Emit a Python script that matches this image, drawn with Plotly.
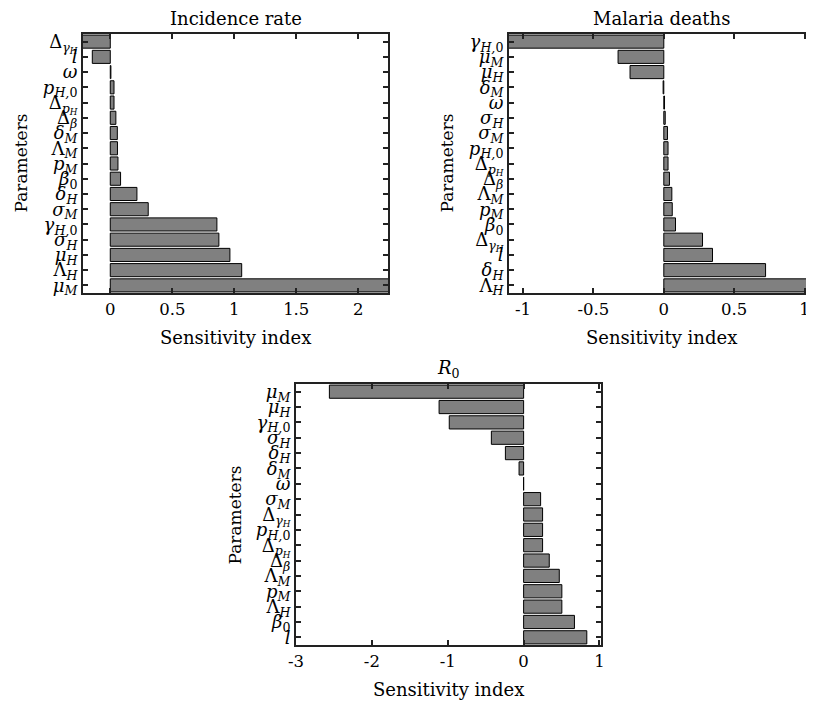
import plotly.graph_objects as go

# ---------------- data (listed top to bottom) ----------------
inc_labels = ["Δ<sub><i>γ<sub>H</sub></i></sub>", "<i>l</i>", "<i>ω</i>", "<i>p<sub>H,</sub></i><sub>0</sub>",
              "Δ<sub><i>p<sub>H</sub></i></sub>", "Δ<sub><i>β</i></sub>", "<i>δ<sub>M</sub></i>", "Λ<sub><i>M</i></sub>",
              "<i>p<sub>M</sub></i>", "<i>β</i><sub>0</sub>", "<i>δ<sub>H</sub></i>", "<i>σ<sub>M</sub></i>",
              "<i>γ<sub>H,</sub></i><sub>0</sub>", "<i>σ<sub>H</sub></i>", "<i>μ<sub>H</sub></i>", "Λ<sub><i>H</i></sub>",
              "<i>μ<sub>M</sub></i>"]
inc_values = [-0.30, -0.145, 0.005, 0.03, 0.03, 0.045, 0.057, 0.058, 0.062, 0.083,
              0.215, 0.306, 0.86, 0.876, 0.965, 1.06, 2.40]

dea_labels = ["<i>γ<sub>H,</sub></i><sub>0</sub>", "<i>μ<sub>M</sub></i>", "<i>μ<sub>H</sub></i>", "<i>δ<sub>M</sub></i>",
              "<i>ω</i>", "<i>σ<sub>H</sub></i>", "<i>σ<sub>M</sub></i>", "<i>p<sub>H,</sub></i><sub>0</sub>",
              "Δ<sub><i>p<sub>H</sub></i></sub>", "Δ<sub><i>β</i></sub>", "Λ<sub><i>M</i></sub>", "<i>p<sub>M</sub></i>",
              "<i>β</i><sub>0</sub>", "Δ<sub><i>γ<sub>H</sub></i></sub>", "<i>l</i>", "<i>δ<sub>H</sub></i>",
              "Λ<sub><i>H</i></sub>"]
dea_values = [-1.20, -0.325, -0.24, -0.005, 0.005, 0.01, 0.026, 0.03, 0.03, 0.04,
              0.057, 0.06, 0.083, 0.275, 0.346, 0.723, 1.20]

r0_labels = ["<i>μ<sub>M</sub></i>", "<i>μ<sub>H</sub></i>", "<i>γ<sub>H,</sub></i><sub>0</sub>", "<i>σ<sub>H</sub></i>",
             "<i>δ<sub>H</sub></i>", "<i>δ<sub>M</sub></i>", "<i>ω</i>", "<i>σ<sub>M</sub></i>",
             "Δ<sub><i>γ<sub>H</sub></i></sub>", "<i>p<sub>H,</sub></i><sub>0</sub>", "Δ<sub><i>p<sub>H</sub></i></sub>",
             "Δ<sub><i>β</i></sub>", "Λ<sub><i>M</i></sub>", "<i>p<sub>M</sub></i>", "Λ<sub><i>H</i></sub>",
             "<i>β</i><sub>0</sub>", "<i>l</i>"]
r0_values = [-2.56, -1.114, -0.98, -0.425, -0.24, -0.06, 0.0, 0.224, 0.25, 0.25, 0.25,
             0.338, 0.47, 0.504, 0.504, 0.67, 0.833]

titles = ["Incidence rate", "Malaria deaths", "<i>R</i><sub>0</sub>"]
x_ranges = [[-0.22, 2.24], [-1.10, 1.06], [-3.0, 1.02]]
x_ticks = [[0, 0.5, 1, 1.5, 2], [-1, -0.5, 0, 0.5, 1], [-3, -2, -1, 0, 1]]

# ---------------- figure ----------------
OFF = 8                     # page body margin offset
W, H = 814 - OFF, 706 - OFF
FONT = "DejaVu Serif"
fig = go.Figure()

boxes = [(83, 388, 34, 293), (509, 813, 34, 293), (296, 601, 384, 645)]
datasets = [(inc_labels, inc_values), (dea_labels, dea_values), (r0_labels, r0_values)]

layout = dict(width=W, height=H, margin=dict(l=0, r=0, t=0, b=0, pad=0),
              paper_bgcolor="white", plot_bgcolor="white", showlegend=False,
              font=dict(family=FONT, size=17, color="black"), bargap=0.14)
annotations = []

def px(x):
    return (x - OFF) / W

def py(y):
    return 1 - (y - OFF) / H

for i, ((labs, vals), (x0, x1, yt, yb)) in enumerate(zip(datasets, boxes)):
    n = i + 1
    xa = "x" if n == 1 else f"x{n}"
    ya = "y" if n == 1 else f"y{n}"
    fig.add_trace(go.Bar(x=vals, y=labs, orientation="h", xaxis=xa, yaxis=ya,
                         marker=dict(color="#808080", line=dict(color="black", width=1)),
                         cliponaxis=True))
    xkey = "xaxis" if n == 1 else f"xaxis{n}"
    ykey = "yaxis" if n == 1 else f"yaxis{n}"
    layout[xkey] = dict(domain=[px(x0), min(px(x1), 1.0)], anchor=ya, range=x_ranges[i],
                        tickmode="array", tickvals=x_ticks[i], ticktext=[str(t) for t in x_ticks[i]],
                        ticks="inside", ticklen=5, tickwidth=1.5, tickcolor="#222",
                        showline=True, linecolor="#222", linewidth=2, mirror="ticks",
                        showgrid=False, zeroline=False, automargin=False,
                        tickfont=dict(size=16.5, family=FONT))
    layout[ykey] = dict(domain=[py(yb), py(yt)], anchor=xa, autorange="reversed",
                        type="category", tickmode="array", tickvals=labs, ticktext=labs,
                        ticks="inside", ticklen=5, tickwidth=1.5, tickcolor="#222",
                        showline=True, linecolor="#222", linewidth=2, mirror="ticks",
                        showgrid=False, zeroline=False, automargin=False,
                        tickfont=dict(size=18, family=FONT))
    cx = (x0 + x1) / 2
    annotations.append(dict(text=titles[i], x=px(cx), y=py(yt - 15), xref="paper", yref="paper",
                            showarrow=False, font=dict(size=18, family=FONT), xanchor="center", yanchor="middle"))
    annotations.append(dict(text="Sensitivity index", x=px(cx), y=py(yb + 44), xref="paper", yref="paper",
                            showarrow=False, font=dict(size=18, family=FONT), xanchor="center", yanchor="middle"))
    annotations.append(dict(text="Parameters", x=px(x0 - 62), y=py((yt + yb) / 2), xref="paper", yref="paper",
                            showarrow=False, textangle=-90, font=dict(size=17, family=FONT),
                            xanchor="center", yanchor="middle"))

layout["annotations"] = annotations
fig.update_layout(**layout)
fig.write_html("out.html")
